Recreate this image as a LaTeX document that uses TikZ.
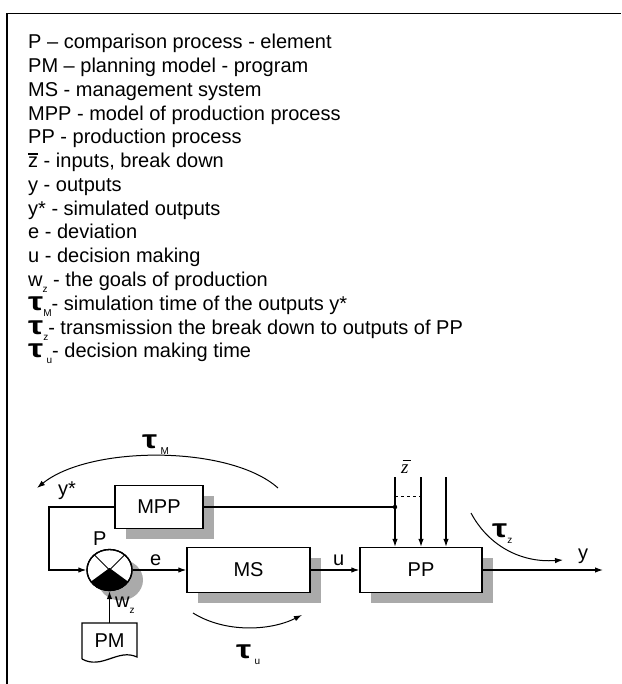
\documentclass[tikz,border=0pt]{standalone}
\usepackage{fontspec}
\usepackage{graphicx}
\setmainfont{Liberation Sans}
\newfontfamily\tserif{Liberation Serif}
\usetikzlibrary{arrows.meta,shadows,shapes.geometric}
\definecolor{shade}{RGB}{170,170,170}
\newcommand\tg{\scalebox{1.3}[1]{\fontsize{26}{26}\selectfont\bfseries τ}}
\newcommand\sbx[1]{\raisebox{-0.3em}{\fontsize{10}{10}\selectfont #1}}
\newcommand\zbar{{\rlap{\rule[0.66em]{0.5em}{0.08em}}z}}
\newcommand\zbarit{{\tserif\itshape\rlap{\hspace{0.08em}\rule[0.62em]{0.42em}{0.05em}}z}}
\begin{document}
\begin{tikzpicture}[x=1pt,y=-1pt,
  every node/.style={inner sep=0pt, font=\fontsize{20}{24}\selectfont},
  leg/.style={anchor=base west},
  lab/.style={anchor=base west},
  blk/.style={draw, fill=white, line width=1.3pt,
    drop shadow={shadow xshift=11pt,shadow yshift=-10pt,fill=shade,opacity=1}},
  ln/.style={line width=1.2pt},
  arr/.style={ln, -{Latex[length=8pt,width=5.5pt]}},
  tarr/.style={line width=1pt, -{Latex[length=8pt,width=5.5pt]}},
]
\useasboundingbox (0,0) rectangle (621,684);
\draw[line width=1.4pt] (7,684) -- (7,13.5) -- (621,13.5);

% legend
\node[leg] (l1) at (28,49) {P – comparison process - element};
\node[leg] (l2) at (28,72.75) {PM – planning model - program};
\node[leg] (l3) at (28,96.5) {MS - management system};
\node[leg] (l4) at (28,120.25) {MPP - model of production process};
\node[leg] (l5) at (28,144) {PP - production process};
\node[leg] (l6) at (28,167.75) {\zbar{} - inputs, break down};
\node[leg] (l7) at (28,191.5) {y - outputs};
\node[leg] (l8) at (28,215.25) {y* - simulated outputs};
\node[leg] (l9) at (28,239) {e - deviation};
\node[leg] (l10) at (28,262.75) {u - decision making};
\node[leg] (l11) at (28,286.5) {w\sbx{z} - the goals of production};
\node[leg] (l12) at (28,310.25) {\tg\sbx{M}- simulation time of the outputs y*};
\node[leg] (l13) at (28,334) {\tg\sbx{z}- transmission the break down to outputs of PP};
\node[leg] (l14) at (28,357.75) {\tg\,\sbx{u}- decision making time};

% blocks
\node[blk, minimum width=88pt, minimum height=43pt] (mpp) at (159,507) {MPP};
\node[blk, minimum width=123pt, minimum height=45pt] (ms) at (248.5,570) {MS};
\node[blk, minimum width=122pt, minimum height=45pt] (pp) at (421,570) {PP};
\node[blk, ellipse, minimum width=45pt, minimum height=41pt] (cmp) at (109.5,570) {};
\draw[line width=0.9pt] (cmp.45) -- (cmp.225) (cmp.135) -- (cmp.315);
\begin{scope}
  \clip (109.5,570) ellipse [x radius=22.5pt, y radius=20.5pt];
  \fill (109.5,568) -- ++(-30,22) -- ++(60,0) -- cycle;
\end{scope}
\draw[line width=1.3pt] (109.5,570) ellipse [x radius=22.5pt, y radius=20.5pt];

% PM document
\node[minimum width=55pt, minimum height=36pt] (pm) at (109.5,641) {PM};
\draw[line width=1.2pt] (82,659) -- (82,623) -- (137,623) -- (137,657)
  .. controls (118,648) and (102,670) .. (82,659);

% coordinates
\coordinate (fb) at (49,507);
\coordinate (jn) at (395,507);
\coordinate (z1) at (395,477);
\coordinate (z2) at (421,477);
\coordinate (z3) at (446,477);
\coordinate (d1) at (395,496);
\coordinate (d2) at (421,496);
\coordinate (yo) at (603,570);
\coordinate (tm1) at (278,488);
\coordinate (tm2) at (37,488);
\coordinate (tu1) at (193,613);
\coordinate (tu2) at (302,615);
\coordinate (tz1) at (471,513);
\coordinate (tz2) at (563,560);

% connectors
\draw[arr] (mpp.west) -- (fb) |- (cmp.west);
\draw[ln] (mpp.east) -- (jn);
\fill (jn) circle (2.2pt);
\draw[arr] (cmp.east) -- (ms.west);
\draw[arr] (ms.east) -- (pp.west);
\draw[arr] (pp.east) -- (yo);
\draw[arr] (pm.north) -- (cmp.south);
\draw[arr] (z1) -- (z1 |- pp.north);
\draw[arr] (z2) -- (z2 |- pp.north);
\draw[arr] (z3) -- (z3 |- pp.north);
\draw[line width=1pt, dashed] (d1) -- (d2);

% time arcs
\draw[tarr] (tm1) .. controls (230,445) and (90,445) .. (tm2);
\draw[tarr] (tu1) .. controls (225,633) and (270,631) .. (tu2);
\draw[tarr] (tz1) .. controls (488,545) and (520,563) .. (tz2);

% labels
\node[lab] (ltm) at (142,448) {\tg\,\sbx{M}};
\node[lab] (ltu) at (236,658) {\tg\,\sbx{u}};
\node[lab] (ltz) at (492,537) {\tg\sbx{z}};
\node[lab] (lys) at (58,495) {y*};
\node[lab] (lP) at (93,545) {P};
\node[lab] (le) at (150,565) {e};
\node[lab] (lu) at (333,565) {u};
\node[lab] (ly) at (578,559) {y};
\node[lab] (lw) at (115,607) {w\sbx{z}};
\node[lab, font=\fontsize{19}{19}\selectfont] (lz) at (401,473) {\zbarit};
\end{tikzpicture}
\end{document}
